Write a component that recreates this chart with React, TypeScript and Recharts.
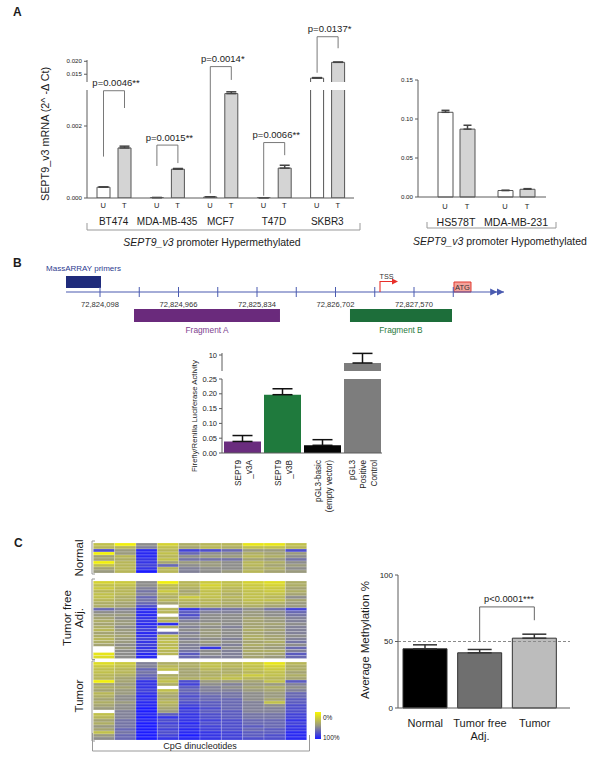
import {
  BarChart,
  Bar,
  XAxis,
  YAxis,
  ErrorBar,
  Cell,
  ReferenceLine,
  ReferenceArea,
  ComposedChart,
  Scatter,
} from 'recharts';

const FONT = '"Liberation Sans", Arial, Helvetica, sans-serif';
const PAGE_W = 600;
const PAGE_H = 766;
const INK = '#1c1c1c';
const AXIS = '#5c5c5c';

// ---- Panel A: SEPT9_v3 mRNA, untreated (U) vs treated (T)
const HYPER_LINES = ['BT474', 'MDA-MB-435', 'MCF7', 'T47D', 'SKBR3'];
const HYPER_U = [0.0003, 0.00001, 0.00003, 0.000005, 0.0135];
const HYPER_U_ERR = [0.00001, 0.000003, 0.000005, 0.000002, 0.0002];
const HYPER_T = [0.00139, 0.0008, 0.0029, 0.00083, 0.0196];
const HYPER_T_ERR = [0.00005, 0.00002, 0.00005, 0.00008, 0.0001];
const P_VALUES = ['p=0.0046**', 'p=0.0015**', 'p=0.0014*', 'p=0.0066**', 'p=0.0137*'];
// bracket heights, in units of the lower axis
const BRACKET_TOP = [0.00298, 0.00147, 0.00365, 0.00154, 0.00448];
const BRACKET_U_END = [0.00115, 0.00089, 0.00013, 0.000064, 0.00348];
const BRACKET_T_END = [0.0025, 0.00097, 0.00328, 0.00119, 0.00416];

const HYPO_LINES = ['HS578T', 'MDA-MB-231'];
const HYPO_U = [0.1086, 0.0083];
const HYPO_U_ERR = [0.0025, 0.0003];
const HYPO_T = [0.087, 0.0099];
const HYPO_T_ERR = [0.005, 0.0008];

// ---- Panel B: genomic map + luciferase
const GENOME_DOMAIN = [72823722, 72828565];
const GENOME_TICKS = [72824098, 72824532, 72824966, 72825400, 72825834, 72826268, 72826702, 72827136, 72827570, 72828004];
const GENOME_LABELS = [72824098, 72824966, 72825834, 72826702, 72827570];
const PRIMERS = [72823722, 72824109];
const FRAG_A = [72824474, 72826088];
const FRAG_B = [72826862, 72827990];
const TSS = 72827194;
const ATG = [72828012, 72828200];
const AXIS_ARROWS = [72828490, 72828565];

const LUC_CONSTRUCTS = ['SEPT9_v3A', 'SEPT9_v3B', 'pGL3-basic (empty vector)', 'pGL3 Positive Control'];
const LUC_LINES = [['SEPT9', '_v3A'], ['SEPT9', '_v3B'], ['pGL3-basic', '(empty vector)'], ['pGL3', 'Positive', 'Control']];
const LUC_VALUES = [0.039, 0.197, 0.026, 8.0];
const LUC_ERR = [0.02, 0.02, 0.019, 2.4];
const LUC_COLORS = ['#6a2c7e', '#1f7a3d', '#050505', '#7d7d7d'];

// ---- Panel C: methylation heatmap (% methylated, null = no data) + averages
const NORMAL_ROWS: (number | null)[][] = [
  [30, 5, 55, 20, 40, 35, 35, 10, 10, 30],
  [35, 35, 60, 30, 45, 35, 40, 30, 30, 35],
  [80, 50, 95, 35, 85, 80, 70, 50, 50, 80],
  [5, 50, 95, 30, 70, 55, 55, 40, 45, 50],
  [45, 35, 95, 35, 55, 50, 50, 35, 40, 55],
  [45, 40, 90, 30, 65, 65, 65, 45, 50, 65],
  [5, 35, 90, 45, 50, 50, 55, 35, 40, 55],
  [30, 35, 85, 70, 55, 50, 55, 35, 45, 50],
  [45, 35, 90, 35, 60, 55, 55, 40, 40, 55],
  [50, 35, 100, 35, 60, 55, 50, 35, 45, 50],
];
const ADJ_ROWS: (number | null)[][] = [
  [20, 25, 55, 5, 35, 25, 30, 20, 15, 40],
  [30, 30, 55, 30, 35, 20, 30, 25, 20, 40],
  [25, 35, 60, 35, 40, 25, 35, 25, 25, 45],
  [35, 35, 65, 25, 45, 30, 35, 30, 25, 40],
  [30, 35, 60, 35, 40, 30, 40, 30, 30, 45],
  [30, 40, 70, 40, 25, 30, 35, 30, 35, 55],
  [35, 40, 65, 35, 35, 35, 40, 30, 30, 45],
  [40, 45, 70, 45, 40, 35, 40, 35, 40, 50],
  [40, 45, 80, null, 40, 40, 45, 40, 45, 50],
  [70, 60, 95, 35, 90, 70, 65, 55, 65, 85],
  [55, 55, 95, 35, 75, 60, 60, 50, 55, 70],
  [50, 50, 95, null, 80, 55, 55, 50, 55, 65],
  [45, 55, 90, 40, 70, 55, 55, 45, 50, 60],
  [40, 50, 90, 35, 60, 55, 55, 45, 50, 60],
  [45, 50, 95, 95, 55, 50, 55, 45, 45, 55],
  [40, 55, 90, 40, 60, 55, 60, 45, 50, 60],
  [35, 50, 85, null, 55, 50, 55, 40, 45, 60],
  [45, 50, 95, 70, 60, 50, 55, 45, 50, 60],
  [40, 45, 90, 30, 55, 50, 55, 40, 45, 55],
  [35, 50, 85, 35, 60, 55, 60, 40, 45, 60],
  [40, 50, 90, 30, 55, 50, 55, 45, 40, 65],
  [45, 55, 85, 35, 60, 55, 60, 40, 45, 55],
  [null, 50, 90, 30, 60, 90, 55, 45, 50, 70],
  [null, 55, 85, 35, 65, 55, 60, 40, 40, 60],
  [10, 55, 95, 35, 75, 55, 60, 45, 45, 75],
  [15, 55, 95, null, 70, 60, 60, 45, 50, 70],
];
const TUMOR_ROWS: (number | null)[][] = [
  [15, 25, 60, 40, 40, 30, 35, 25, 10, 35],
  [25, 30, 60, 35, 40, 30, 35, 30, 20, 40],
  [30, 35, 70, 30, 45, 35, 40, 30, 25, 40],
  [30, 35, 65, null, 45, 40, 40, 35, 30, 45],
  [35, 40, 70, 40, 45, 40, 35, 25, 30, 40],
  [35, 45, 75, 35, 40, 35, 30, 35, 35, 45],
  [5, 45, 90, 30, 80, 50, 50, 45, 30, 75],
  [45, 50, 90, 40, 85, 55, 60, 50, 50, 60],
  [40, 45, 90, null, 75, 60, 55, 45, 40, 55],
  [45, 50, 85, 30, 70, 60, 60, 50, 45, 60],
  [35, 50, 90, 40, 75, 65, 65, 55, 50, 70],
  [40, 55, 95, 45, 80, 70, 65, 55, 50, 70],
  [45, 55, 90, 40, 75, 70, 70, 55, 45, 75],
  [40, 50, 95, 35, 80, 75, 70, 60, 30, 75],
  [45, 55, 95, 40, 85, 75, 70, 60, 55, 80],
  [50, 55, 100, 45, 90, 80, 70, 60, 60, 80],
  [null, 60, 100, 50, 85, 75, 75, 60, 60, 80],
  [30, 60, 95, 75, 90, 80, 75, 65, 65, 85],
  [35, 60, 100, 90, 90, 80, 75, 65, 65, 85],
  [45, 65, 95, 80, 90, 85, 80, 70, 70, 90],
  [40, 65, 100, 85, 95, 80, 80, 70, 70, 85],
  [50, 65, 100, 80, 90, 85, 80, 75, 70, 90],
  [45, 70, 100, 85, 95, 85, 80, 70, 75, 90],
  [30, 65, 100, 80, 95, 90, 85, 75, 75, 95],
  [50, 70, 100, 85, 100, 90, 85, 75, 80, 95],
  [55, 70, 100, 90, 95, 90, 85, 80, 80, 95],
];
const CPG_COUNT = 10;

const METH_GROUPS = ['Normal', 'Tumor free Adj.', 'Tumor'];
const METH_LINES = [['Normal'], ['Tumor free', 'Adj.'], ['Tumor']];
const METH_MEAN = [44.5, 41.5, 52.5];
const METH_SEM = [3, 2.5, 3];
const METH_COLORS = ['#000000', '#6f6f6f', '#bcbcbc'];
const METH_P = 'p<0.0001***';

// ---- plot boxes, page pixels
type Box = { l: number; t: number; r: number; b: number };
const A_LOW: Box = { l: 87, t: 90, r: 354, b: 198 };
const A_LOW_MAX = 0.003;
const A_HIGH: Box = { l: 87, t: 60, r: 354, b: 82 };
const A_HIGH_DOMAIN = [0.012, 0.0205];
const A_RIGHT: Box = { l: 418, t: 80, r: 546, b: 197 };
const A_BAR = 13;
const A_GAP = 8;
const GEN_TOP: Box = { l: 66, t: 272, r: 504, b: 292 };
const GEN_BOTTOM: Box = { l: 66, t: 309, r: 504, b: 322 };
const LUC_LOW: Box = { l: 222, t: 379, r: 382, b: 453 };
const LUC_HIGH: Box = { l: 222, t: 353, r: 382, b: 371 };
const LUC_HIGH_DOMAIN = [6, 10.5];
const HM_L = 93.3;
const HM_R = 306.7;
const HM_BLOCKS = [
  { rows: NORMAL_ROWS, t: 543, b: 573 },
  { rows: ADJ_ROWS, t: 581, b: 658.5 },
  { rows: TUMOR_ROWS, t: 662, b: 740 },
];
const C_BOX: Box = { l: 398, t: 575, r: 570, b: 708 };
const C_PAD_R = 8;

const GENOME_BLUE = '#4a5bb0';
const layer: React.CSSProperties = { position: 'absolute', left: 0, top: 0 };

function margins(box: Box, yw: number, xh: number) {
  return { left: box.l - yw, top: box.t, right: PAGE_W - box.r, bottom: PAGE_H - box.b - xh };
}

const yA = (v: number) => A_LOW.b - (v * (A_LOW.b - A_LOW.t)) / A_LOW_MAX;
const yC = (v: number) => C_BOX.b - (v * (C_BOX.b - C_BOX.t)) / 100;

function methColor(v: number | null) {
  if (v == null) return '#ffffff';
  const Y = [250, 248, 0];
  const G = [154, 154, 126];
  const B = [28, 28, 255];
  const [a, b, t] = v <= 50 ? [Y, G, v / 50] : [G, B, (v - 50) / 50];
  const c = a.map((x, i) => Math.round(x + (b[i] - x) * t));
  return `rgb(${c[0]},${c[1]},${c[2]})`;
}

const hyperData = HYPER_LINES.map((name, i) => ({
  name,
  u: HYPER_U[i],
  t: HYPER_T[i],
  uErr: [0, HYPER_U_ERR[i]],
  tErr: [0, HYPER_T_ERR[i]],
}));
const hyperHighData = HYPER_LINES.map((name, i) => ({
  name,
  u: HYPER_U[i] >= A_HIGH_DOMAIN[0] ? HYPER_U[i] : null,
  t: HYPER_T[i] >= A_HIGH_DOMAIN[0] ? HYPER_T[i] : null,
  uErr: [0, HYPER_U_ERR[i]],
  tErr: [0, HYPER_T_ERR[i]],
}));
const hypoData = HYPO_LINES.map((name, i) => ({
  name,
  u: HYPO_U[i],
  t: HYPO_T[i],
  uErr: [0, HYPO_U_ERR[i]],
  tErr: [0, HYPO_T_ERR[i]],
}));
const lucData = LUC_CONSTRUCTS.map((name, i) => ({ name, v: LUC_VALUES[i], err: [0, LUC_ERR[i]] }));
const lucHighData = LUC_CONSTRUCTS.map((name, i) => ({
  name,
  v: LUC_VALUES[i] >= LUC_HIGH_DOMAIN[0] ? LUC_VALUES[i] : null,
  err: [0, LUC_ERR[i]],
}));
const methData = METH_GROUPS.map((name, i) => ({ name, v: METH_MEAN[i], err: [0, METH_SEM[i]] }));
const fragmentStarts = [FRAG_A[0], FRAG_B[0]].map((x) => ({ x, y: 0 }));

function rectOf(props: any) {
  const vb = props.viewBox && props.viewBox.width != null ? props.viewBox : props;
  return { x: Number(vb.x), y: Number(vb.y), width: Number(vb.width), height: Number(vb.height) };
}

function hyperBracket(props: any) {
  const i = typeof props.index === 'number' ? props.index : HYPER_T.indexOf(props.value);
  const { x, width } = rectOf(props);
  if (i < 0 || !Number.isFinite(x)) return null;
  const tx = x + width / 2;
  const ux = tx - (A_BAR + A_GAP);
  const top = yA(BRACKET_TOP[i]);
  return (
    <g>
      <path
        d={`M${ux},${yA(BRACKET_U_END[i])}V${top}H${tx}V${yA(BRACKET_T_END[i])}`}
        fill="none"
        stroke="#6a6a6a"
        strokeWidth={0.9}
      />
      <text x={(ux + tx) / 2 + 2} y={top - 4.5} textAnchor="middle" fontSize={9.5} fontFamily={FONT} fill={INK}>
        {P_VALUES[i]}
      </text>
    </g>
  );
}

function methBracket(props: any) {
  const i = typeof props.index === 'number' ? props.index : METH_MEAN.indexOf(props.value);
  if (i !== 2) return null;
  const { x, width } = rectOf(props);
  const band = (C_BOX.r - C_BOX.l - C_PAD_R) / METH_GROUPS.length;
  const tx = x + width / 2;
  const ax = tx - band;
  const top = yC(76);
  return (
    <g>
      <path d={`M${ax},${yC(50)}V${top}H${tx}V${yC(66)}`} fill="none" stroke="#555" strokeWidth={0.9} />
      <text x={(ax + tx) / 2 + 2} y={top - 5} textAnchor="middle" fontSize={9.3} fontFamily={FONT} fill={INK}>
        {METH_P}
      </text>
    </g>
  );
}

function OpenBar(props: any) {
  const { x, y, width, height, fill } = props;
  if (!height || height <= 0) return null;
  return (
    <g>
      <rect x={x} y={y} width={width} height={height} fill={fill} />
      <path d={`M${x},${y + height}V${y}H${x + width}V${y + height}`} fill="none" stroke="#555" />
    </g>
  );
}

function PairTick(props: any) {
  const { x, y, payload, offset, size, dy1, dy2 } = props;
  return (
    <g fontFamily={FONT} fill={INK}>
      <text x={x - offset} y={y + dy1} textAnchor="middle" fontSize={7.5}>U</text>
      <text x={x + offset} y={y + dy1} textAnchor="middle" fontSize={7.5}>T</text>
      <text x={x} y={y + dy2} textAnchor="middle" fontSize={size}>{payload.value}</text>
    </g>
  );
}

function LucTick(props: any) {
  const { x, y, index } = props;
  const lines = LUC_LINES[index] ?? [];
  const ty = y + 7;
  return (
    <g fontFamily={FONT} fill={INK} fontSize={8.2}>
      {lines.map((line, k) => {
        const bx = x - ((lines.length - 1) * 11) / 2 + 4 + k * 11;
        return (
          <text key={k} x={bx} y={ty} textAnchor="end" transform={`rotate(-90, ${bx}, ${ty})`}>
            {line}
          </text>
        );
      })}
    </g>
  );
}

function MethTick(props: any) {
  const { x, y, index } = props;
  const lines = METH_LINES[index] ?? [];
  return (
    <g fontFamily={FONT} fill={INK} fontSize={11}>
      {lines.map((line, k) => (
        <text key={k} x={x} y={y + 19 + k * 13} textAnchor="middle">{line}</text>
      ))}
    </g>
  );
}

function GenomeTick(props: any) {
  const { x, y, payload } = props;
  const labelled = GENOME_LABELS.includes(payload.value);
  return (
    <g>
      <line x1={x} x2={x} y1={y - 5} y2={y + 5} stroke={GENOME_BLUE} />
      {labelled && (
        <text x={x} y={y + 14.5} textAnchor="middle" fontSize={7.6} fontFamily={FONT} fill="#333">
          {Number(payload.value).toLocaleString('en-US')}
        </text>
      )}
    </g>
  );
}

function TssShape(props: any) {
  const { cx, cy } = props;
  const red = '#e8302a';
  return (
    <g>
      <path d={`M${cx},${cy}V${cy - 10.5}H${cx + 13}`} fill="none" stroke={red} strokeWidth={1.1} />
      <path d={`M${cx + 12},${cy - 13.5}L${cx + 18},${cy - 10.5}L${cx + 12},${cy - 7.5}Z`} fill={red} />
      <text x={cx - 0.5} y={cy - 13} fontSize={7.2} fontFamily={FONT} fill="#333">TSS</text>
    </g>
  );
}

function ArrowHead(props: any) {
  const { cx, cy } = props;
  return <path d={`M${cx},${cy}L${cx - 7},${cy - 3.6}L${cx - 7},${cy + 3.6}Z`} fill={GENOME_BLUE} />;
}

const Hidden = () => null;

const yTick = (size: number) => ({ fontSize: size, fill: INK, fontFamily: FONT });

function HeatBlock({ rows, t, b }: { rows: (number | null)[][]; t: number; b: number }) {
  const data = rows.map((r, i) => {
    const entry: Record<string, number> = { row: i };
    r.forEach((_, j) => (entry[`c${j}`] = 1));
    return entry;
  });
  const box: Box = { l: HM_L, t, r: HM_R, b };
  return (
    <div style={layer}>
      <BarChart
        width={PAGE_W}
        height={PAGE_H}
        data={data}
        layout="vertical"
        margin={margins(box, 0, 0)}
        barCategoryGap={0}
        barGap={0}
      >
        <XAxis type="number" hide domain={[0, CPG_COUNT]} />
        <YAxis type="category" dataKey="row" hide />
        {Array.from({ length: CPG_COUNT }, (_, j) => (
          <Bar
            key={j}
            dataKey={`c${j}`}
            stackId="cpg"
            stroke="#ffffff"
            strokeOpacity={0.5}
            strokeWidth={0.4}
            isAnimationActive={false}
          >
            {rows.map((r, i) => (
              <Cell key={i} fill={methColor(r[j])} />
            ))}
          </Bar>
        ))}
      </BarChart>
    </div>
  );
}

export default function App() {
  return (
    <div style={{ position: 'absolute', left: 0, top: 0, width: PAGE_W, height: PAGE_H, background: '#fff', fontFamily: FONT }}>
      {/* A: hypermethylated lines, lower segment */}
      <div style={layer}>
        <BarChart width={PAGE_W} height={PAGE_H} data={hyperData} margin={margins(A_LOW, 40, 30)} barSize={A_BAR} barGap={A_GAP}>
          <XAxis
            dataKey="name"
            height={30}
            axisLine={{ stroke: AXIS }}
            tickLine={false}
            tickSize={0}
            tickMargin={0}
            interval={0}
            tick={(p: any) => <PairTick {...p} offset={(A_BAR + A_GAP) / 2} size={10} dy1={9.5} dy2={27} />}
          />
          <YAxis
            width={40}
            domain={[0, A_LOW_MAX]}
            allowDataOverflow
            ticks={[0, 0.002]}
            interval={0}
            tickFormatter={(v: number) => v.toFixed(3)}
            tick={yTick(6.2)}
            tickSize={3}
            tickLine={{ stroke: AXIS }}
            axisLine={{ stroke: AXIS }}
          />
          <Bar dataKey="u" fill="#ffffff" stroke="#555" isAnimationActive={false}>
            <ErrorBar dataKey="uErr" width={5} stroke="#444" />
          </Bar>
          <Bar dataKey="t" fill="#d4d4d4" stroke="#555" isAnimationActive={false} label={hyperBracket}>
            <ErrorBar dataKey="tErr" width={5} stroke="#444" />
          </Bar>
        </BarChart>
      </div>

      {/* A: upper segment above the axis break */}
      <div style={layer}>
        <BarChart width={PAGE_W} height={PAGE_H} data={hyperHighData} margin={margins(A_HIGH, 40, 0)} barSize={A_BAR} barGap={A_GAP}>
          <XAxis dataKey="name" hide />
          <YAxis
            width={40}
            domain={A_HIGH_DOMAIN}
            allowDataOverflow
            ticks={[0.015, 0.02]}
            interval={0}
            tickFormatter={(v: number) => v.toFixed(3)}
            tick={yTick(6.2)}
            tickSize={3}
            tickLine={{ stroke: AXIS }}
            axisLine={{ stroke: AXIS }}
          />
          <Bar dataKey="u" fill="#ffffff" shape={OpenBar} isAnimationActive={false}>
            <ErrorBar dataKey="uErr" width={5} stroke="#444" />
          </Bar>
          <Bar dataKey="t" fill="#d4d4d4" shape={OpenBar} isAnimationActive={false}>
            <ErrorBar dataKey="tErr" width={5} stroke="#444" />
          </Bar>
        </BarChart>
      </div>

      {/* A: hypomethylated lines */}
      <div style={layer}>
        <BarChart width={PAGE_W} height={PAGE_H} data={hypoData} margin={margins(A_RIGHT, 30, 30)} barSize={15} barGap={7}>
          <XAxis
            dataKey="name"
            height={30}
            padding={{ left: 8, right: 0 }}
            axisLine={{ stroke: AXIS }}
            tickLine={false}
            tickSize={0}
            tickMargin={0}
            interval={0}
            tick={(p: any) => <PairTick {...p} offset={11} size={10.6} dy1={12} dy2={28.5} />}
          />
          <YAxis
            width={30}
            domain={[0, 0.15]}
            ticks={[0, 0.05, 0.1, 0.15]}
            interval={0}
            tickFormatter={(v: number) => v.toFixed(2)}
            tick={yTick(6.2)}
            tickSize={3}
            tickLine={{ stroke: AXIS }}
            axisLine={{ stroke: AXIS }}
          />
          <Bar dataKey="u" fill="#ffffff" stroke="#555" isAnimationActive={false}>
            <ErrorBar dataKey="uErr" width={4} stroke="#444" />
          </Bar>
          <Bar dataKey="t" fill="#d4d4d4" stroke="#555" isAnimationActive={false}>
            <ErrorBar dataKey="tErr" width={4} stroke="#444" />
          </Bar>
        </BarChart>
      </div>

      {/* B: genomic map, primers + axis */}
      <div style={layer}>
        <ComposedChart width={PAGE_W} height={PAGE_H} margin={margins(GEN_TOP, 0, 28)}>
          <XAxis
            type="number"
            dataKey="x"
            domain={GENOME_DOMAIN}
            ticks={GENOME_TICKS}
            interval={0}
            height={28}
            axisLine={{ stroke: GENOME_BLUE, strokeWidth: 1.2 }}
            tickLine={false}
            tickSize={0}
            tickMargin={0}
            tick={GenomeTick}
          />
          <YAxis type="number" dataKey="y" domain={[0, 1]} hide />
          <ReferenceArea
            x1={PRIMERS[0]}
            x2={PRIMERS[1]}
            y1={0.2}
            y2={0.8}
            fill="#1f2b7b"
            fillOpacity={1}
            stroke="none"
            label={{ value: 'MassARRAY primers', position: 'top', offset: 5, fill: '#2e3b8f', fontSize: 8, fontFamily: FONT }}
          />
          <ReferenceArea
            x1={ATG[0]}
            x2={ATG[1]}
            y1={0}
            y2={0.5}
            fill="#f4a29a"
            fillOpacity={1}
            stroke="#e0392f"
            label={{ value: 'ATG', position: 'center', fill: '#333', fontSize: 7.5, fontFamily: FONT }}
          />
          <Scatter data={[{ x: TSS, y: 0 }]} dataKey="y" shape={TssShape} isAnimationActive={false} />
          <Scatter data={AXIS_ARROWS.map((x) => ({ x, y: 0 }))} dataKey="y" shape={ArrowHead} isAnimationActive={false} />
        </ComposedChart>
      </div>

      {/* B: luciferase fragments */}
      <div style={layer}>
        <ComposedChart width={PAGE_W} height={PAGE_H} margin={margins(GEN_BOTTOM, 0, 0)}>
          <XAxis type="number" dataKey="x" domain={GENOME_DOMAIN} hide />
          <YAxis type="number" dataKey="y" domain={[0, 1]} hide />
          <ReferenceArea
            x1={FRAG_A[0]}
            x2={FRAG_A[1]}
            y1={0}
            y2={1}
            fill="#6a2a7c"
            fillOpacity={1}
            stroke="none"
            label={{ value: 'Fragment A', position: 'bottom', offset: 5, fill: '#7e3f8f', fontSize: 8.3, fontFamily: FONT }}
          />
          <ReferenceArea
            x1={FRAG_B[0]}
            x2={FRAG_B[1]}
            y1={0}
            y2={1}
            fill="#1d6e3a"
            fillOpacity={1}
            stroke="none"
            label={{ value: 'Fragment B', position: 'bottom', offset: 5, fill: '#2a7a40', fontSize: 8.3, fontFamily: FONT }}
          />
          <Scatter data={fragmentStarts} dataKey="y" shape={Hidden} isAnimationActive={false} />
        </ComposedChart>
      </div>

      {/* B: luciferase, lower segment */}
      <div style={layer}>
        <BarChart width={PAGE_W} height={PAGE_H} data={lucData} margin={margins(LUC_LOW, 30, 60)} barSize={37}>
          <XAxis
            dataKey="name"
            height={60}
            axisLine={{ stroke: AXIS }}
            tickLine={false}
            tickSize={0}
            tickMargin={0}
            interval={0}
            tick={LucTick}
          />
          <YAxis
            width={30}
            domain={[0, 0.25]}
            allowDataOverflow
            ticks={[0, 0.05, 0.1, 0.15, 0.2, 0.25]}
            interval={0}
            tickFormatter={(v: number) => v.toFixed(2)}
            tick={yTick(7.5)}
            tickSize={3}
            tickLine={{ stroke: AXIS }}
            axisLine={{ stroke: AXIS }}
          />
          <Bar dataKey="v" isAnimationActive={false}>
            {LUC_COLORS.map((c, i) => (
              <Cell key={i} fill={c} />
            ))}
            <ErrorBar dataKey="err" width={10} stroke="#111" />
          </Bar>
        </BarChart>
      </div>

      {/* B: luciferase, upper segment */}
      <div style={layer}>
        <BarChart width={PAGE_W} height={PAGE_H} data={lucHighData} margin={margins(LUC_HIGH, 30, 0)} barSize={37}>
          <XAxis dataKey="name" hide />
          <YAxis
            width={30}
            domain={LUC_HIGH_DOMAIN}
            allowDataOverflow
            ticks={[10]}
            interval={0}
            tick={yTick(7.5)}
            tickSize={3}
            tickLine={{ stroke: AXIS }}
            axisLine={{ stroke: AXIS }}
          />
          <Bar dataKey="v" isAnimationActive={false}>
            {LUC_COLORS.map((c, i) => (
              <Cell key={i} fill={c} />
            ))}
            <ErrorBar dataKey="err" width={10} stroke="#111" />
          </Bar>
        </BarChart>
      </div>

      {/* C: heatmap blocks */}
      {HM_BLOCKS.map((blk, k) => (
        <HeatBlock key={k} rows={blk.rows} t={blk.t} b={blk.b} />
      ))}

      {/* C: average methylation */}
      <div style={layer}>
        <BarChart width={PAGE_W} height={PAGE_H} data={methData} margin={margins(C_BOX, 30, 40)} barSize={44}>
          <XAxis
            dataKey="name"
            height={40}
            padding={{ left: 0, right: C_PAD_R }}
            axisLine={{ stroke: AXIS }}
            tickLine={false}
            tickSize={0}
            tickMargin={0}
            interval={0}
            tick={MethTick}
          />
          <YAxis
            width={30}
            domain={[0, 100]}
            ticks={[0, 50, 100]}
            interval={0}
            tick={yTick(8)}
            tickSize={3}
            tickLine={{ stroke: AXIS }}
            axisLine={{ stroke: AXIS }}
          />
          <Bar dataKey="v" stroke="#333" isAnimationActive={false} label={methBracket}>
            {METH_COLORS.map((c, i) => (
              <Cell key={i} fill={c} />
            ))}
            <ErrorBar dataKey="err" width={12} stroke="#333" />
          </Bar>
          <ReferenceLine y={50} stroke="#8a8a8a" strokeDasharray="3 2" />
        </BarChart>
      </div>

      {/* static labels and brackets */}
      <svg width={PAGE_W} height={PAGE_H} style={layer} fontFamily={FONT} fill={INK}>
        <defs>
          <linearGradient id="methScale" x1="0" y1="0" x2="0" y2="1">
            <stop offset="0" stopColor={methColor(0)} />
            <stop offset="0.5" stopColor={methColor(50)} />
            <stop offset="1" stopColor={methColor(100)} />
          </linearGradient>
        </defs>
        <text x={13} y={16} fontSize={12} fontWeight="bold">A</text>
        <text transform="translate(49,134) rotate(-90)" textAnchor="middle" fontSize={10.8}>
          SEPT9_v3 mRNA (2^ -Δ Ct)
        </text>
        <path d="M87,223V230H360V223" stroke="#999" fill="none" />
        <text x={212} y={246} textAnchor="middle" fontSize={10.5}>
          <tspan fontStyle="italic">SEPT9_v3</tspan> promoter Hypermethylated
        </text>
        <path d="M427,222V228H556V222" stroke="#999" fill="none" />
        <text x={500} y={245} textAnchor="middle" fontSize={10.5}>
          <tspan fontStyle="italic">SEPT9_v3</tspan> promoter Hypomethylated
        </text>

        <text x={13} y={267} fontSize={12} fontWeight="bold">B</text>
        <text transform="translate(197,416) rotate(-90)" textAnchor="middle" fontSize={7.8}>
          Firefly/Renilla Luciferase Activity
        </text>

        <text x={14} y={547} fontSize={12} fontWeight="bold">C</text>
        <path d="M95,541H92V574H95" stroke="#999" fill="none" />
        <path d="M95,579H92V659.5H95" stroke="#999" fill="none" />
        <path d="M95,661H92V741H95" stroke="#999" fill="none" />
        <text transform="translate(83,558) rotate(-90)" textAnchor="middle" fontSize={11.5}>Normal</text>
        <text transform="translate(71,618) rotate(-90)" textAnchor="middle" fontSize={11.5}>Tumor free</text>
        <text transform="translate(83,618) rotate(-90)" textAnchor="middle" fontSize={11.5}>Adj.</text>
        <text transform="translate(83,696) rotate(-90)" textAnchor="middle" fontSize={11.5}>Tumor</text>
        <path d="M92.5,733V751H309.5V735" stroke="#999" fill="none" />
        <text x={200} y={749} textAnchor="middle" fontSize={9}>CpG dinucleotides</text>
        <rect x={315} y={712} width={6} height={27} fill="url(#methScale)" />
        <text x={323} y={720} fontSize={6.5}>0%</text>
        <text x={323} y={740} fontSize={6.5}>100%</text>

        <text transform="translate(369,640) rotate(-90)" textAnchor="middle" fontSize={11.5}>
          Average Methylation %
        </text>
      </svg>
    </div>
  );
}
